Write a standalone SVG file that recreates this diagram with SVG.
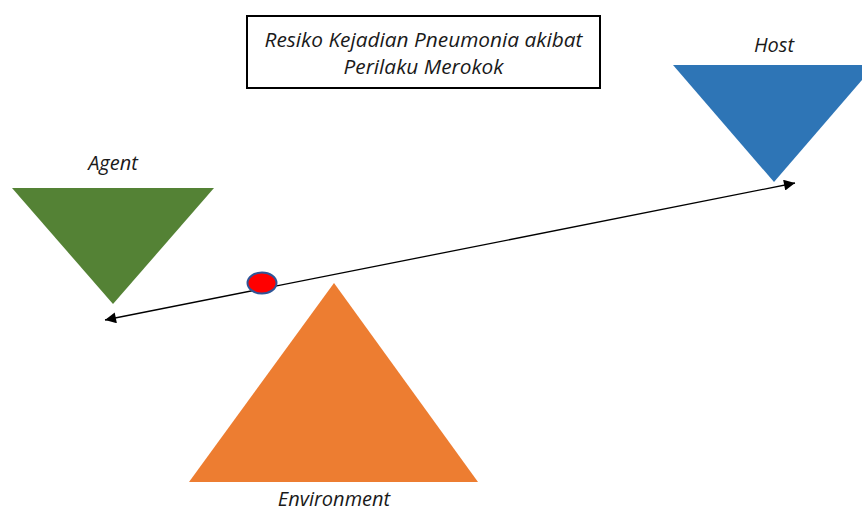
<svg xmlns="http://www.w3.org/2000/svg" width="862" height="512" viewBox="0 0 862 512">
<style>
text{font-family:"Open Sans","Liberation Sans",sans-serif;font-style:italic;fill:#1a1a1a;font-size:20px;text-anchor:middle}
</style>
<defs>
<marker id="ah" viewBox="0 0 10 10" refX="10" refY="5" markerWidth="14" markerHeight="11" markerUnits="userSpaceOnUse" orient="auto-start-reverse">
<path d="M0,0 L10,5 L0,10 Z" fill="#000"/>
</marker>
</defs>
<rect width="862" height="512" fill="#fff"/>
<g id="title">
<rect x="247" y="16" width="353" height="72" fill="#fff" stroke="#000" stroke-width="2"/>
<text x="423.5" y="47" textLength="318" lengthAdjust="spacingAndGlyphs">Resiko Kejadian Pneumonia akibat</text>
<text x="423.5" y="74" textLength="160" lengthAdjust="spacingAndGlyphs">Perilaku Merokok</text>
</g>
<g id="host">
<polygon points="673,65 875,65 774,182" fill="#2E75B6"/>
<text x="774" y="52">Host</text>
</g>
<g id="agent">
<polygon points="12,188 214,188 113,304" fill="#548235"/>
<text x="113" y="170">Agent</text>
</g>
<g id="environment">
<polygon points="334,283 478,482 189,482" fill="#ED7D31"/>
<text x="334" y="506" font-size="19">Environment</text>
</g>
<g id="connectors">
<line x1="105" y1="320" x2="795" y2="183" stroke="#000" stroke-width="1.3" marker-start="url(#ah)" marker-end="url(#ah)"/>
</g>
<g id="pivot">
<ellipse cx="262" cy="283" rx="14.5" ry="10.5" fill="#FF0000" stroke="#2F5597" stroke-width="2"/>
</g>
</svg>
